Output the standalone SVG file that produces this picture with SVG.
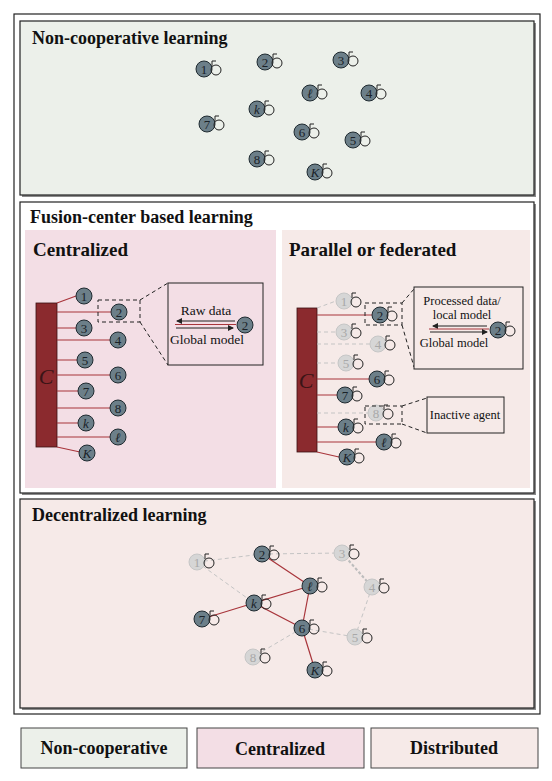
<svg xmlns="http://www.w3.org/2000/svg" xmlns:xlink="http://www.w3.org/1999/xlink" width="552" height="781" viewBox="0 0 552 781">
<style>
.title{font-family:"Liberation Serif",serif;font-weight:bold;font-size:18px;fill:#111}
.sub{font-family:"Liberation Serif",serif;font-weight:bold;font-size:19px;fill:#111}
.leg{font-family:"Liberation Serif",serif;font-weight:bold;font-size:18px;fill:#111}
.box{font-family:"Liberation Serif",serif;font-size:12.5px;fill:#111}
.box2{font-family:"Liberation Serif",serif;font-size:13.5px;fill:#111}
.n circle.b{fill:#6C7F89;stroke:#1f2a30;stroke-width:1}
.n text{font-family:"Liberation Serif",serif;font-size:13px;fill:#1a2228;text-anchor:middle}
.f circle.b{fill:#D6D6D6;stroke:#C6C6C6;stroke-width:1}
.f text{font-family:"Liberation Serif",serif;font-size:13px;fill:#A8A8A8;text-anchor:middle}
.it{font-style:italic}
.loop{fill:none;stroke:#222;stroke-width:1}
.f .loop{stroke:#BDBDBD}
.red{stroke:#A8353B;stroke-width:1.2;fill:none}
.dash{stroke:#C4C4C4;stroke-width:1;stroke-dasharray:4 3;fill:none}
.kd{stroke:#222;stroke-width:1;stroke-dasharray:4 3;fill:none}
.panel{stroke:#222;stroke-width:1.2}
.shadow{fill:#8a8a8a}
</style>
<defs>
<g id="lp"><circle class="loop" cx="12" cy="1" r="5"/><path class="loop" d="M8,-8 L8,-3 M8,-8 L12,-8"/></g>
<marker id="ah" viewBox="0 0 6 6" refX="5" refY="3" markerWidth="6" markerHeight="6" orient="auto"><path d="M0,0 L6,3 L0,6 z" fill="#222"/></marker>
</defs>
<rect x="0" y="0" width="552" height="781" fill="#fff"/>
<rect x="14" y="14" width="526" height="700" fill="#fff" stroke="#222" stroke-width="1.2"/>

<g id="panel-noncoop">
<rect class="shadow" x="22" y="23" width="514" height="174"/>
<rect class="panel" x="20" y="21" width="514" height="174" fill="#ECF0EA"/>
<text class="title" x="32" y="44">Non-cooperative learning</text>
</g>
<g id="nc-1" class="n"><circle class="b" cx="204" cy="69" r="8"/><text x="204" y="73.5">1</text><use xlink:href="#lp" x="204" y="69"/></g>
<g id="nc-2" class="n"><circle class="b" cx="265" cy="62" r="8"/><text x="265" y="66.5">2</text><use xlink:href="#lp" x="265" y="62"/></g>
<g id="nc-3" class="n"><circle class="b" cx="341" cy="60" r="8"/><text x="341" y="64.5">3</text><use xlink:href="#lp" x="341" y="60"/></g>
<g id="nc-l" class="n"><circle class="b" cx="310" cy="93" r="8"/><text class="it" x="310" y="97.5">ℓ</text><use xlink:href="#lp" x="310" y="93"/></g>
<g id="nc-4" class="n"><circle class="b" cx="369" cy="93" r="8"/><text x="369" y="97.5">4</text><use xlink:href="#lp" x="369" y="93"/></g>
<g id="nc-k" class="n"><circle class="b" cx="257" cy="109" r="8"/><text class="it" x="257" y="113.5">k</text><use xlink:href="#lp" x="257" y="109"/></g>
<g id="nc-7" class="n"><circle class="b" cx="207" cy="124" r="8"/><text x="207" y="128.5">7</text><use xlink:href="#lp" x="207" y="124"/></g>
<g id="nc-6" class="n"><circle class="b" cx="302" cy="132" r="8"/><text x="302" y="136.5">6</text><use xlink:href="#lp" x="302" y="132"/></g>
<g id="nc-5" class="n"><circle class="b" cx="353" cy="140" r="8"/><text x="353" y="144.5">5</text><use xlink:href="#lp" x="353" y="140"/></g>
<g id="nc-8" class="n"><circle class="b" cx="257" cy="159" r="8"/><text x="257" y="163.5">8</text><use xlink:href="#lp" x="257" y="159"/></g>
<g id="nc-K" class="n"><circle class="b" cx="315" cy="172" r="8"/><text class="it" x="315" y="176.5">K</text><use xlink:href="#lp" x="315" y="172"/></g>

<g id="panel-fusion">
<rect class="shadow" x="22" y="204" width="514" height="291"/>
<rect class="panel" x="20" y="202" width="514" height="291" fill="#fff"/>
<text class="title" x="30" y="223">Fusion-center based learning</text>
<rect x="25" y="230" width="251" height="258" fill="#F3DEE5"/>
<rect x="282" y="230" width="248" height="258" fill="#F6EAE8"/>
<text class="sub" x="33" y="256">Centralized</text>
<text class="sub" x="289" y="256">Parallel or federated</text>
</g>

<g id="cen-C"><rect x="36" y="303" width="21" height="144" fill="#8B2A2E" stroke="#3a1012" stroke-width="0.8"/><text x="46" y="384" font-family="Liberation Serif,serif" font-style="italic" font-size="22" fill="#3a1416" text-anchor="middle">C</text></g>
<g id="cen-links">
<path class="red" d="M57,303 L76,296 M57,312 L111,312 M57,328 L76,328 M57,340 L110,340 M57,360 L77,360 M57,375 L110,375 M57,391 L78,391 M57,408 L110,408 M57,423 L78,423 M57,437 L110,437 M57,447 L80,452"/>
</g>
<g id="cen-1" class="n"><circle class="b" cx="84" cy="296" r="8"/><text x="84" y="300.5">1</text></g>
<g id="cen-2" class="n"><circle class="b" cx="119" cy="312" r="8"/><text x="119" y="316.5">2</text></g>
<g id="cen-3" class="n"><circle class="b" cx="84" cy="328" r="8"/><text x="84" y="332.5">3</text></g>
<g id="cen-4" class="n"><circle class="b" cx="118" cy="340" r="8"/><text x="118" y="344.5">4</text></g>
<g id="cen-5" class="n"><circle class="b" cx="85" cy="360" r="8"/><text x="85" y="364.5">5</text></g>
<g id="cen-6" class="n"><circle class="b" cx="118" cy="375" r="8"/><text x="118" y="379.5">6</text></g>
<g id="cen-7" class="n"><circle class="b" cx="86" cy="391" r="8"/><text x="86" y="395.5">7</text></g>
<g id="cen-8" class="n"><circle class="b" cx="118" cy="408" r="8"/><text x="118" y="412.5">8</text></g>
<g id="cen-k" class="n"><circle class="b" cx="86" cy="423" r="8"/><text class="it" x="86" y="427.5">k</text></g>
<g id="cen-l" class="n"><circle class="b" cx="118" cy="437" r="8"/><text class="it" x="118" y="441.5">ℓ</text></g>
<g id="cen-K" class="n"><circle class="b" cx="87" cy="453" r="8"/><text class="it" x="87" y="457.5">K</text></g>
<g id="cen-zoom">
<rect class="kd" x="98" y="300" width="42" height="22"/>
<path class="kd" d="M140,300 L168,283 M140,322 L168,365"/>
<rect x="168" y="283" width="95" height="82" fill="#F3DEE5" stroke="#222" stroke-width="1"/>
<text class="box2" x="206" y="315" text-anchor="middle">Raw data</text>
<path d="M235,321 L177,321" stroke="#222" stroke-width="1" marker-end="url(#ah)"/>
<path class="red" d="M175,324.5 L236,324.5"/>
<path d="M176,328 L233,328" stroke="#222" stroke-width="1" marker-end="url(#ah)"/>
<text class="box2" x="207" y="344" text-anchor="middle">Global model</text>
</g>
<g id="cen-zoom-2" class="n"><circle class="b" cx="245" cy="325" r="8"/><text x="245" y="329.5">2</text></g>

<g id="par-C"><rect x="297" y="308" width="20" height="144" fill="#8B2A2E" stroke="#3a1012" stroke-width="0.8"/><text x="306" y="388" font-family="Liberation Serif,serif" font-style="italic" font-size="22" fill="#3a1416" text-anchor="middle">C</text></g>
<g id="par-links">
<path class="dash" d="M317,308 L336,301 M317,332 L336,332 M317,344 L370,344 M317,363 L338,363 M317,413 L368,413"/>
<path class="red" d="M317,315 L372,315 M317,379 L369,379 M317,395 L337,395 M317,427 L338,427 M317,442 L376,442 M317,452 L339,457"/>
</g>
<g id="par-1" class="f"><circle class="b" cx="344" cy="301" r="8"/><text x="344" y="305.5">1</text><use xlink:href="#lp" x="344" y="301"/></g>
<g id="par-2" class="n"><circle class="b" cx="380" cy="315" r="8"/><text x="380" y="319.5">2</text><use xlink:href="#lp" x="380" y="315"/></g>
<g id="par-3" class="f"><circle class="b" cx="344" cy="332" r="8"/><text x="344" y="336.5">3</text><use xlink:href="#lp" x="344" y="332"/></g>
<g id="par-4" class="f"><circle class="b" cx="378" cy="344" r="8"/><text x="378" y="348.5">4</text><use xlink:href="#lp" x="378" y="344"/></g>
<g id="par-5" class="f"><circle class="b" cx="346" cy="363" r="8"/><text x="346" y="367.5">5</text><use xlink:href="#lp" x="346" y="363"/></g>
<g id="par-6" class="n"><circle class="b" cx="377" cy="379" r="8"/><text x="377" y="383.5">6</text><use xlink:href="#lp" x="377" y="379"/></g>
<g id="par-7" class="n"><circle class="b" cx="345" cy="395" r="8"/><text x="345" y="399.5">7</text><use xlink:href="#lp" x="345" y="395"/></g>
<g id="par-8" class="f"><circle class="b" cx="376" cy="413" r="8"/><text x="376" y="417.5">8</text><use xlink:href="#lp" x="376" y="413"/></g>
<g id="par-k" class="n"><circle class="b" cx="346" cy="427" r="8"/><text class="it" x="346" y="431.5">k</text><use xlink:href="#lp" x="346" y="427"/></g>
<g id="par-l" class="n"><circle class="b" cx="384" cy="442" r="8"/><text class="it" x="384" y="446.5">ℓ</text><use xlink:href="#lp" x="384" y="442"/></g>
<g id="par-K" class="n"><circle class="b" cx="347" cy="457" r="8"/><text class="it" x="347" y="461.5">K</text><use xlink:href="#lp" x="347" y="457"/></g>
<g id="par-zoom">
<rect class="kd" x="365" y="303" width="37" height="22"/>
<path class="kd" d="M402,303 L414,289 M402,325 L414,367"/>
<rect x="414" y="287" width="109" height="82" fill="#F6EAE8" stroke="#222" stroke-width="1"/>
<text class="box" x="462" y="305" text-anchor="middle">Processed data/</text>
<text class="box" x="462" y="319" text-anchor="middle">local model</text>
<path d="M487,326 L433,326" stroke="#222" stroke-width="1" marker-end="url(#ah)"/>
<path class="red" d="M429,329 L489,329"/>
<path d="M430,332 L487,332" stroke="#222" stroke-width="1" marker-end="url(#ah)"/>
<text class="box" x="454" y="347" text-anchor="middle">Global model</text>
</g>
<g id="par-zoom-2" class="n"><circle class="b" cx="498" cy="330" r="8"/><text x="498" y="334.5">2</text><use xlink:href="#lp" x="498" y="330"/></g>
<g id="par-inactive">
<rect class="kd" x="365" y="406" width="37" height="18"/>
<path class="kd" d="M402,406 L427,398 M402,424 L427,433"/>
<rect x="427" y="397" width="77" height="36" fill="#F6EAE8" stroke="#222" stroke-width="1"/>
<text class="box" x="465" y="419" text-anchor="middle">Inactive agent</text>
</g>

<g id="panel-decentral">
<rect class="shadow" x="22" y="501" width="514" height="209"/>
<rect class="panel" x="20" y="499" width="514" height="209" fill="#F6EAE8"/>
<text class="title" x="32" y="521">Decentralized learning</text>
</g>
<g id="dec-edges">
<path class="dash" d="M197,562 L262,554 M197,562 L254,603 M262,554 L342,553 M302,628 L355,637 M302,628 L253,657 M372,587 L355,637"/>
<path d="M342,553 L372,587" stroke="#BDBDBD" stroke-width="2" stroke-dasharray="3 2" fill="none"/>
<path class="red" d="M262,554 L310,586 M310,586 L254,603 M254,603 L202,619 M254,603 L302,628 M310,586 L302,628 M302,628 L315,670"/>
</g>
<g id="dec-1" class="f"><circle class="b" cx="197" cy="562" r="8"/><text x="197" y="566.5">1</text><use xlink:href="#lp" x="197" y="562"/></g>
<g id="dec-2" class="n"><circle class="b" cx="262" cy="554" r="8"/><text x="262" y="558.5">2</text><use xlink:href="#lp" x="262" y="554"/></g>
<g id="dec-3" class="f"><circle class="b" cx="342" cy="553" r="8"/><text x="342" y="557.5">3</text><use xlink:href="#lp" x="342" y="553"/></g>
<g id="dec-l" class="n"><circle class="b" cx="310" cy="586" r="8"/><text class="it" x="310" y="590.5">ℓ</text><use xlink:href="#lp" x="310" y="586"/></g>
<g id="dec-4" class="f"><circle class="b" cx="372" cy="587" r="8"/><text x="372" y="591.5">4</text><use xlink:href="#lp" x="372" y="587"/></g>
<g id="dec-k" class="n"><circle class="b" cx="254" cy="603" r="8"/><text class="it" x="254" y="607.5">k</text><use xlink:href="#lp" x="254" y="603"/></g>
<g id="dec-7" class="n"><circle class="b" cx="202" cy="619" r="8"/><text x="202" y="623.5">7</text><use xlink:href="#lp" x="202" y="619"/></g>
<g id="dec-6" class="n"><circle class="b" cx="302" cy="628" r="8"/><text x="302" y="632.5">6</text><use xlink:href="#lp" x="302" y="628"/></g>
<g id="dec-5" class="f"><circle class="b" cx="355" cy="637" r="8"/><text x="355" y="641.5">5</text><use xlink:href="#lp" x="355" y="637"/></g>
<g id="dec-8" class="f"><circle class="b" cx="253" cy="657" r="8"/><text x="253" y="661.5">8</text><use xlink:href="#lp" x="253" y="657"/></g>
<g id="dec-K" class="n"><circle class="b" cx="315" cy="670" r="8"/><text class="it" x="315" y="674.5">K</text><use xlink:href="#lp" x="315" y="670"/></g>

<g id="legend-noncoop"><rect x="21" y="728" width="166" height="40" fill="#ECF0EA" stroke="#444" stroke-width="1"/><text class="leg" x="104" y="754" text-anchor="middle">Non-cooperative</text></g>
<g id="legend-central"><rect x="197" y="728" width="167" height="40" fill="#F3DEE5" stroke="#444" stroke-width="1"/><text class="leg" x="280" y="755" text-anchor="middle">Centralized</text></g>
<g id="legend-distrib"><rect x="371" y="728" width="167" height="40" fill="#F6EAE8" stroke="#444" stroke-width="1"/><text class="leg" x="454" y="754" text-anchor="middle">Distributed</text></g>
</svg>
